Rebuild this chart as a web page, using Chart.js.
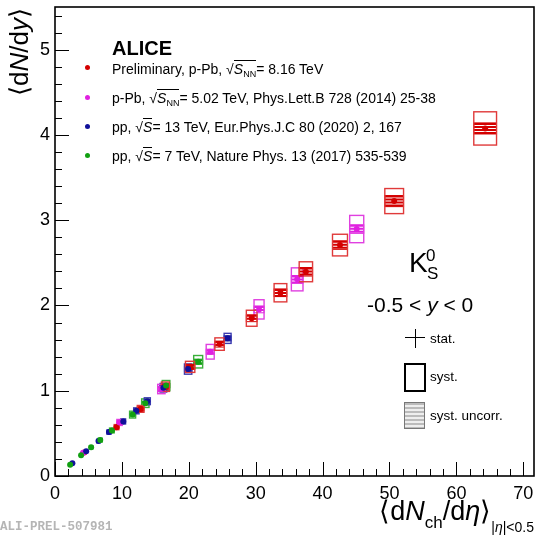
<!DOCTYPE html>
<html><head><meta charset="utf-8">
<script src="https://cdn.jsdelivr.net/npm/chart.js@4.4.1/dist/chart.umd.min.js"></script>
<style>
html,body{margin:0;padding:0;background:#fff;}
#wrap{position:relative;width:537px;height:538px;overflow:hidden;font-family:"Liberation Sans",Arial,Helvetica,sans-serif;color:#000;}
#c{position:absolute;left:0;top:0;}
.t{position:absolute;white-space:nowrap;line-height:1;}
.ov{border-top:1px solid #000;padding-top:0px;}
.sb{font-size:9px;position:relative;top:3px;}
.dot{position:absolute;width:5px;height:5px;border-radius:50%;}
</style></head>
<body><div id="wrap">
<canvas id="c" width="537" height="538"></canvas>

<div class="t" style="left:6px;top:96px;font-size:26px;transform:rotate(-90deg);transform-origin:left top;">⟨d<i>N</i>/d<i>y</i>⟩</div>
<div class="t" style="right:3px;top:498px;font-size:27px;">⟨d<i>N</i><span style="font-size:17px;position:relative;top:8px;">ch</span>/d<i>η</i>⟩<span style="font-size:14px;position:relative;top:12px;">|<i>η</i>|&lt;0.5</span></div>

<div class="t" style="left:112px;top:38px;font-size:20px;font-weight:bold;">ALICE</div>
<div class="dot" style="left:85px;top:65px;background:#d40000"></div>
<div class="dot" style="left:85px;top:95px;background:#e020e0"></div>
<div class="dot" style="left:85px;top:124px;background:#10109a"></div>
<div class="dot" style="left:85px;top:153px;background:#12a012"></div>
<div class="t" style="left:112px;top:62px;font-size:14px;">Preliminary, p-Pb, √<span class="ov"><i>S</i><span class="sb">NN</span></span>= 8.16 TeV</div>
<div class="t" style="left:112px;top:91px;font-size:14px;">p-Pb, √<span class="ov"><i>S</i><span class="sb">NN</span></span>= 5.02 TeV, Phys.Lett.B 728 (2014) 25-38</div>
<div class="t" style="left:112px;top:120px;font-size:14px;">pp, √<span class="ov"><i>S</i></span>= 13 TeV, Eur.Phys.J.C 80 (2020) 2, 167</div>
<div class="t" style="left:112px;top:149px;font-size:14px;">pp, √<span class="ov"><i>S</i></span>= 7 TeV, Nature Phys. 13 (2017) 535-539</div>

<div class="t" style="left:409px;top:249px;font-size:28px;">K</div>
<div class="t" style="left:426px;top:247px;font-size:17px;">0</div>
<div class="t" style="left:427px;top:265px;font-size:17px;">S</div>
<div class="t" style="left:367px;top:294px;font-size:21px;">-0.5 &lt; <i>y</i> &lt; 0</div>

<div style="position:absolute;left:405px;top:337px;width:20px;height:1px;background:#000"></div>
<div style="position:absolute;left:415px;top:329px;width:1px;height:19px;background:#000"></div>
<div class="t" style="left:430px;top:332px;font-size:13.5px;">stat.</div>
<div style="position:absolute;left:404px;top:363px;width:18px;height:25px;border:2px solid #000"></div>
<div class="t" style="left:430px;top:370px;font-size:13.5px;">syst.</div>
<div style="position:absolute;left:404px;top:402px;width:19px;height:25px;border:1.5px solid #777;background:repeating-linear-gradient(to bottom,#bbb 0px,#bbb 2px,#eee 2px,#eee 4px)"></div>
<div class="t" style="left:430px;top:409px;font-size:13.5px;">syst. uncorr.</div>

<div class="t" style="left:0px;top:521px;font-size:12.5px;font-family:'Liberation Mono',monospace;font-weight:bold;color:#b5b5b5;">ALI-PREL-507981</div>
</div>
<script>
// ---- data ----
const redX   = [4.36, 9.2, 12.8, 16.5, 20.2, 24.6, 29.4, 33.7, 37.5, 42.6, 50.7, 64.3];
const redY   = [0.277, 0.573, 0.787, 1.047, 1.28, 1.547, 1.85, 2.149, 2.395, 2.708, 3.224, 4.076];
const redSx  = [0.25, 0.35, 0.5, 0.6, 0.7, 0.7, 0.8, 0.95, 1.0, 1.12, 1.4, 1.7];
const redSy  = [0.015, 0.03, 0.04, 0.055, 0.065, 0.073, 0.094, 0.107, 0.117, 0.127, 0.147, 0.195];
const redUy  = [0.01, 0.018, 0.025, 0.03, 0.03, 0.035, 0.04, 0.045, 0.05, 0.05, 0.065, 0.065];

const magX   = [4.2, 9.65, 15.9, 23.2, 30.5, 36.2, 45.1];
const magY   = [0.272, 0.628, 1.02, 1.457, 1.954, 2.306, 2.896];
const magSx  = [0.25, 0.4, 0.55, 0.6, 0.75, 0.87, 1.05];
const magSy  = [0.015, 0.035, 0.055, 0.086, 0.113, 0.135, 0.16];
const magUy  = [0.01, 0.02, 0.03, 0.03, 0.04, 0.045, 0.05];

const bluX   = [2.6, 4.66, 6.5, 8.07, 10.2, 12.16, 13.8, 16.2, 19.9, 25.8];
const bluY   = [0.149, 0.289, 0.409, 0.515, 0.64, 0.764, 0.877, 1.035, 1.254, 1.614];
const bluSx  = [0.15, 0.2, 0.25, 0.3, 0.35, 0.4, 0.45, 0.5, 0.55, 0.52];
const bluSy  = [0.008, 0.015, 0.02, 0.025, 0.03, 0.035, 0.04, 0.05, 0.06, 0.059];
const bluUy  = [0.004, 0.007, 0.01, 0.012, 0.015, 0.017, 0.02, 0.025, 0.03, 0.03];

const grnX   = [2.26, 3.9, 5.4, 6.76, 8.5, 11.6, 13.5, 16.6, 21.4];
const grnY   = [0.132, 0.242, 0.336, 0.421, 0.534, 0.72, 0.854, 1.06, 1.34];
const grnSx  = [0.15, 0.2, 0.25, 0.3, 0.35, 0.45, 0.55, 0.57, 0.67];
const grnSy  = [0.008, 0.013, 0.017, 0.022, 0.028, 0.04, 0.05, 0.06, 0.073];
const grnUy  = [0.004, 0.006, 0.008, 0.01, 0.013, 0.018, 0.022, 0.025, 0.03];

const xTickLabels = [0, 10, 20, 30, 40, 50, 60, 70];
const yTickLabels = [0, 1, 2, 3, 4, 5];
const X_MIN = 0, X_MAX = 71.6, Y_MIN = 0, Y_MAX = 5.5;

const series = [
  {x: redX, y: redY, sx: redSx, sy: redSy, uy: redUy, col: '#d40000', box: '#e03a3a'},
  {x: magX, y: magY, sx: magSx, sy: magSy, uy: magUy, col: '#e020e0', box: '#e040e0'},
  {x: bluX, y: bluY, sx: bluSx, sy: bluSy, uy: bluUy, col: '#10109a', box: '#3a3ab0'},
  {x: grnX, y: grnY, sx: grnSx, sy: grnSy, uy: grnUy, col: '#12a012', box: '#3ab03a'}
];
const order = [3, 2, 1, 0];

const boxesPlugin = {
  id: 'boxes',
  beforeDatasetsDraw(chart) {
    const {ctx, scales: {x, y}, chartArea: a} = chart;
    ctx.save();
    ctx.beginPath(); ctx.rect(a.left, a.top, a.right - a.left, a.bottom - a.top); ctx.clip();
    for (const k of order) {
      const s = series[k];
      for (let i = 0; i < s.x.length; i++) {
        const x0 = x.getPixelForValue(s.x[i] - s.sx[i]);
        const x1 = x.getPixelForValue(s.x[i] + s.sx[i]);
        const yt = y.getPixelForValue(s.y[i] + s.sy[i]);
        const yb = y.getPixelForValue(s.y[i] - s.sy[i]);
        const ut = y.getPixelForValue(s.y[i] + s.uy[i]);
        const ub = y.getPixelForValue(s.y[i] - s.uy[i]);
        ctx.strokeStyle = s.col; ctx.lineWidth = 2;
        ctx.beginPath();
        for (let yy = ut + 1; yy <= ub; yy += 3) { ctx.moveTo(x0, yy); ctx.lineTo(x1, yy); }
        ctx.stroke();
        ctx.lineWidth = 1;
        ctx.strokeRect(x0, ut, x1 - x0, ub - ut);
        ctx.strokeStyle = s.box; ctx.lineWidth = 1.4;
        ctx.strokeRect(x0, yt, x1 - x0, yb - yt);
      }
    }
    ctx.restore();
  }
};

const frameTicks = {
  id: 'frameTicks',
  afterDraw(chart) {
    const {ctx, chartArea: a, scales: {x, y}} = chart;
    ctx.save();
    ctx.strokeStyle = '#000';
    ctx.lineWidth = 1;
    ctx.beginPath();
    for (let v = 0; v <= X_MAX; v += 2) {
      const px = Math.round(x.getPixelForValue(v)) + 0.5;
      const L = (v % 10 === 0) ? 14 : 7;
      ctx.moveTo(px, a.bottom); ctx.lineTo(px, a.bottom - L);
    }
    for (let i = 0; i * 0.2 <= Y_MAX + 1e-9; i++) {
      const py = Math.round(y.getPixelForValue(i * 0.2)) + 0.5;
      const L = (i % 5 === 0) ? 14 : 7;
      ctx.moveTo(a.left, py); ctx.lineTo(a.left + L, py);
    }
    ctx.stroke();
    ctx.lineWidth = 1.6;
    ctx.strokeRect(a.left, a.top, a.right - a.left, a.bottom - a.top);
    ctx.restore();
  }
};

const datasets = order.map(k => ({
  data: series[k].x.map((v, i) => ({x: v, y: series[k].y[i]})),
  backgroundColor: series[k].col,
  borderWidth: 0,
  pointRadius: 3,
  pointHoverRadius: 3,
  showLine: false
}));

new Chart(document.getElementById('c'), {
  type: 'scatter',
  data: {datasets},
  options: {
    responsive: false,
    animation: false,
    layout: {padding: {top: 7, right: 3, left: 0, bottom: 0}},
    plugins: {legend: {display: false}, tooltip: {enabled: false}},
    scales: {
      x: {
        type: 'linear', min: X_MIN, max: X_MAX,
        afterBuildTicks(s) { s.ticks = xTickLabels.map(v => ({value: v})); },
        afterFit(s) { s.height = 62; s.paddingLeft = 0; s.paddingRight = 0; },
        grid: {display: false, drawTicks: false},
        border: {display: false},
        ticks: {
          autoSkip: false, maxRotation: 0, padding: 7,
          color: '#000', font: {family: 'Liberation Sans', size: 18},
          callback: v => String(v)
        }
      },
      y: {
        type: 'linear', min: Y_MIN, max: Y_MAX,
        afterBuildTicks(s) { s.ticks = yTickLabels.map(v => ({value: v})); },
        afterFit(s) { s.width = 55; s.paddingTop = 0; s.paddingBottom = 0; },
        grid: {display: false, drawTicks: false},
        border: {display: false},
        ticks: {
          autoSkip: false, padding: 5,
          color: '#000', font: {family: 'Liberation Sans', size: 18},
          callback: v => String(v)
        }
      }
    }
  },
  plugins: [boxesPlugin, frameTicks]
});
</script>
</body></html>
